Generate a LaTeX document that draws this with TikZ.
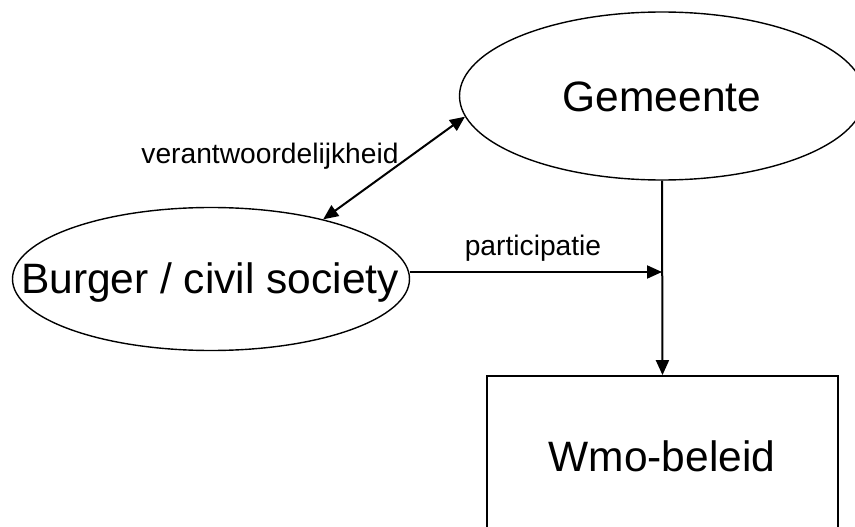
\documentclass[tikz,border=0pt]{standalone}
\usepackage{fontspec}
\setmainfont{Liberation Sans}
\usetikzlibrary{shapes.geometric,arrows.meta}
\begin{document}
\begin{tikzpicture}[x=1pt,y=-1pt,
  shapeline/.style={draw=black,line width=1.4pt},
  bigtext/.style={font=\fontsize{42.5}{50}\selectfont},
  smalltext/.style={font=\fontsize{28.2}{34}\selectfont},
  conn/.style={draw=black,line width=2pt,-{Triangle[length=15pt,width=13pt]}},
  dconn/.style={draw=black,line width=2pt,{Triangle[length=15pt,width=13pt]}-{Triangle[length=15pt,width=13pt]}}]
\clip (0,0) rectangle (855,527);
\node[shapeline,ellipse,minimum width=405pt,minimum height=168pt,inner sep=0pt] (gem) at (662,96) {};
\node[bigtext,anchor=base] (gemt) at (662,112) {Gemeente};
\node[shapeline,ellipse,minimum width=397pt,minimum height=143pt,inner sep=0pt] (burger) at (211,279) {};
\node[bigtext,anchor=base] (burgert) at (210,293) {Burger / civil society};
\node[shapeline,rectangle,line width=1.8pt,minimum width=351pt,minimum height=162pt,inner sep=0pt] (wmo) at (662.5,457) {};
\node[bigtext,anchor=base] (wmot) at (662,471) {Wmo-beleid};
\coordinate (p) at (662,272);
\draw[conn] (gem.south) -- (wmo.north);
\draw[conn] (burger.east |- p) -- (p);
\draw[dconn] (burger.28) -- (gem.186.6);
\node[smalltext,anchor=base] (lv) at (270,163) {verantwoordelijkheid};
\node[smalltext,anchor=base] (lp) at (533,255) {participatie};
\end{tikzpicture}
\end{document}
